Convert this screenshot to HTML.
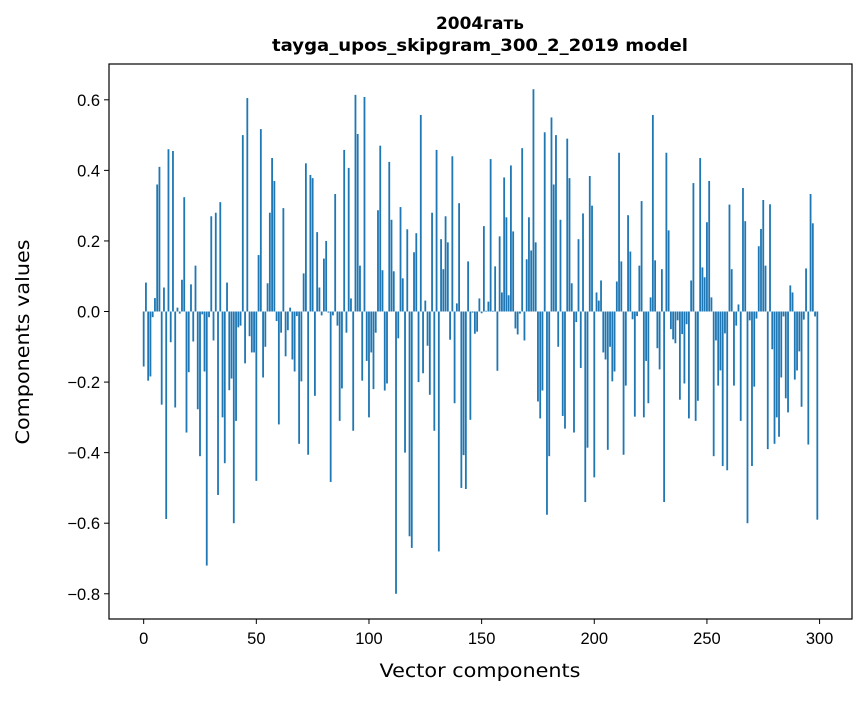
<!DOCTYPE html>
<html><head><meta charset="utf-8"><style>
body{margin:0;background:#fff;}
svg text{font-family:"Liberation Sans","DejaVu Sans",sans-serif;fill:#000;}
svg text.dv{font-family:"DejaVu Sans","Liberation Sans",sans-serif;}
</style></head><body>
<svg id="chart" width="867" height="696" viewBox="0 0 867 696" xmlns="http://www.w3.org/2000/svg">
<rect x="0" y="0" width="867" height="696" fill="#fff"/>
<text class="dv" x="480" y="29" text-anchor="middle" font-size="17" font-weight="bold" textLength="88" lengthAdjust="spacingAndGlyphs">2004гать</text>
<text class="dv" x="480" y="51" text-anchor="middle" font-size="17" font-weight="bold" textLength="416" lengthAdjust="spacingAndGlyphs">tayga_upos_skipgram_300_2_2019 model</text>
<g id="bars"></g>
<rect x="109" y="64" width="743" height="555" fill="none" stroke="#000" stroke-width="1.2"/>
<g id="xticks"></g>
<g id="yticks"></g>
<text class="dv" x="480" y="677" text-anchor="middle" font-size="19" textLength="201" lengthAdjust="spacingAndGlyphs">Vector components</text>
<text class="dv" transform="translate(29,342) rotate(-90)" text-anchor="middle" font-size="19" textLength="205" lengthAdjust="spacingAndGlyphs">Components values</text>
</svg>
<script>
const values = [
-0.156,0.082,-0.196,-0.184,-0.016,0.038,0.36,0.41,-0.264,0.068,
-0.588,0.46,-0.087,0.455,-0.272,0.011,-0.006,0.09,0.324,-0.343,
-0.172,0.077,-0.085,0.13,-0.277,-0.41,-0.008,-0.17,-0.72,-0.016,
0.27,-0.082,0.28,-0.52,0.31,-0.30,-0.43,0.082,-0.223,-0.19,
-0.60,-0.31,-0.045,-0.04,0.50,-0.147,0.605,-0.07,-0.116,-0.116,
-0.48,0.16,0.517,-0.187,-0.10,0.08,0.28,0.435,0.37,-0.027,
-0.32,-0.06,0.293,-0.127,-0.053,0.011,-0.136,-0.17,-0.013,-0.375,
-0.198,0.108,0.42,-0.406,0.387,0.378,-0.239,0.225,0.068,-0.011,
0.15,0.20,-0.003,-0.483,-0.011,0.333,-0.04,-0.31,-0.218,0.458,
-0.06,0.407,0.037,-0.338,0.614,0.503,0.13,-0.196,0.608,-0.14,
-0.30,-0.116,-0.22,-0.06,0.287,0.47,0.117,-0.224,-0.204,0.424,
0.26,0.114,-0.80,-0.076,0.296,0.094,-0.40,0.233,-0.637,-0.67,
0.168,0.222,-0.20,0.557,-0.175,0.031,-0.097,-0.236,0.28,-0.338,
0.458,-0.68,0.205,0.12,0.27,0.196,-0.08,0.44,-0.26,0.023,
0.307,-0.50,-0.407,-0.503,0.142,-0.307,-0.003,-0.063,-0.057,0.037,
-0.005,0.242,0.002,0.028,0.432,0.002,0.128,-0.168,0.213,0.054,
0.38,0.267,0.046,0.414,0.227,-0.048,-0.065,-0.006,0.463,-0.082,
0.148,0.267,0.173,0.63,0.196,-0.255,-0.303,-0.224,0.508,-0.576,
-0.41,0.55,0.36,0.50,-0.10,0.26,-0.296,-0.332,0.49,0.378,
0.08,-0.343,-0.03,0.205,-0.16,0.278,-0.54,-0.386,0.384,0.30,
-0.47,0.054,0.031,0.088,-0.116,-0.136,-0.392,-0.10,-0.198,-0.17,
0.085,0.45,0.142,-0.406,-0.21,0.273,0.17,-0.022,-0.298,-0.013,
0.13,0.313,-0.30,-0.14,-0.26,0.04,0.557,0.145,-0.104,-0.164,
0.12,-0.54,0.45,0.23,-0.05,-0.079,-0.09,-0.025,-0.25,-0.064,
-0.204,-0.036,-0.303,0.088,0.364,-0.31,-0.253,0.435,0.125,0.097,
0.253,0.37,0.04,-0.41,-0.082,-0.21,-0.167,-0.438,-0.062,-0.45,
0.303,0.12,-0.21,-0.04,0.02,-0.31,0.35,0.256,-0.60,-0.025,
-0.438,-0.213,-0.02,0.185,0.234,0.316,0.13,-0.39,0.304,-0.107,
-0.375,-0.30,-0.355,-0.187,-0.014,-0.246,-0.286,0.074,0.054,-0.193,
-0.167,-0.113,-0.27,-0.023,0.122,-0.377,0.333,0.25,-0.014,-0.59
];
const xTickValues = [0,50,100,150,200,250,300];
const yTickValues = [-0.8,-0.6,-0.4,-0.2,0.0,0.2,0.4,0.6];
const yTickLabels = ["\u22120.8","\u22120.6","\u22120.4","\u22120.2","0.0","0.2","0.4","0.6"];

const NS="http://www.w3.org/2000/svg";
const L=109,R=852,T=64,B=619,BW=0.8;
const n=values.length;
const xmin0=-BW/2,xmax0=n-1+BW/2,xm=(xmax0-xmin0)*0.05;
const xmin=xmin0-xm,xmax=xmax0+xm;
let vmin=Math.min(0,...values),vmax=Math.max(0,...values);
const ym=(vmax-vmin)*0.05;
const ymin=vmin-ym,ymax=vmax+ym;
function xs(v){return L+(v-xmin)/(xmax-xmin)*(R-L);}
function ys(v){return B-(v-ymin)/(ymax-ymin)*(B-T);}
const bars=document.getElementById('bars');
values.forEach((v,i)=>{
  const r=document.createElementNS(NS,'rect');
  const y0=ys(0),y1=ys(v);
  r.setAttribute('x',xs(i-BW/2));
  r.setAttribute('width',xs(BW)-xs(0));
  r.setAttribute('y',Math.min(y0,y1));
  r.setAttribute('height',Math.abs(y1-y0));
  r.setAttribute('fill','#1f77b4');
  
  
  bars.appendChild(r);
});
const xg=document.getElementById('xticks');
xTickValues.forEach(t=>{
  const x=xs(t);
  const l=document.createElementNS(NS,'line');
  l.setAttribute('x1',x);l.setAttribute('x2',x);l.setAttribute('y1',B);l.setAttribute('y2',B+5);
  l.setAttribute('stroke','#000');
  
  
  xg.appendChild(l);
  const tx=document.createElementNS(NS,'text');
  tx.setAttribute('x',x);tx.setAttribute('y',B+25);tx.setAttribute('text-anchor','middle');tx.setAttribute('font-size','16.5');
  tx.textContent=String(t);
  
  
  xg.appendChild(tx);
});
const yg=document.getElementById('yticks');
yTickValues.forEach((t,k)=>{
  const y=ys(t);
  const l=document.createElementNS(NS,'line');
  l.setAttribute('x1',L-5);l.setAttribute('x2',L);l.setAttribute('y1',y);l.setAttribute('y2',y);
  l.setAttribute('stroke','#000');
  
  
  yg.appendChild(l);
  const tx=document.createElementNS(NS,'text');
  tx.setAttribute('x',L-9);tx.setAttribute('y',y+6);tx.setAttribute('text-anchor','end');tx.setAttribute('font-size','16.5');
  tx.textContent=yTickLabels[k];
  
  
  yg.appendChild(tx);
});
</script>
</body></html>
